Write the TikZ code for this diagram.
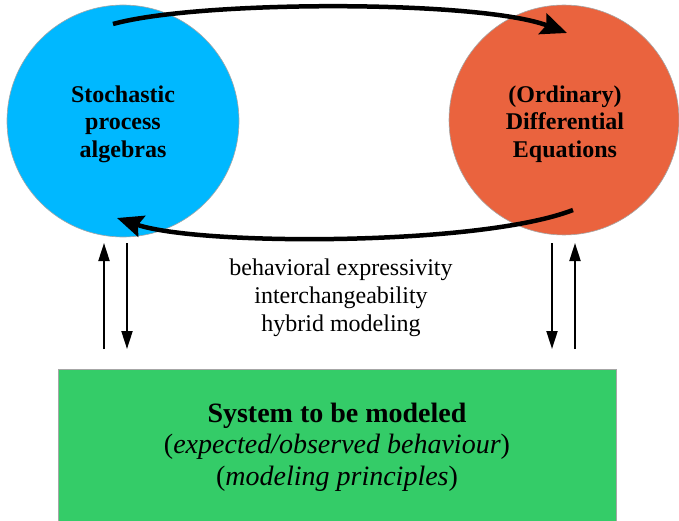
\documentclass[tikz,border=0pt]{standalone}
\usepackage{fontspec}
\setmainfont{Liberation Serif}
\usetikzlibrary{arrows.meta}
\definecolor{sblue}{RGB}{0,184,255}
\definecolor{sorange}{RGB}{234,99,62}
\definecolor{sgreen}{RGB}{52,204,104}
\tikzset{
  blob/.style={circle, draw=gray!70, line width=0.6pt, minimum size=#1, inner sep=0pt},
  circlabel/.style={font=\bfseries\fontsize{24}{27.5}\selectfont, align=center, text=black},
  bigarrow/.style={line width=4.5pt, -{Stealth[length=26pt 0 0,width=22pt 0 0,inset=4pt 0]}},
  thinarrow/.style={line width=2pt, -{Triangle[length=18pt 0 0,width=11pt 0 0]}},
}
\begin{document}
\begin{tikzpicture}[x=1pt,y=-1pt]
\useasboundingbox (0,0) rectangle (679,521);
% circles
\node[blob=232pt, fill=sblue] (spa) at (123,121) {};
\node[blob=230pt, fill=sorange] (ode) at (564,120) {};
\node[circlabel] (spatext) at (123,124) {Stochastic\\process\\algebras};
\node[circlabel] (odetext) at (565,124) {(Ordinary)\\Differential\\Equations};
% green box
\node[draw=gray!70, line width=0.6pt, fill=sgreen, minimum width=558pt, minimum height=170pt, inner sep=0pt] (sys) at (337,454) {};
\node[align=center, font=\fontsize{28}{31.5}\selectfont] (systext) at (337,447)
  {\textbf{System to be modeled}\\(\textit{expected/observed behaviour})\\(\textit{modeling principles})};
% middle text
\node[align=center, font=\fontsize{24}{28}\selectfont] (mid) at (341,298)
  {behavioral expressivity\\interchangeability\\hybrid modeling};
% arrow endpoints
\coordinate (a1) at (113,24);
\coordinate (a2) at (567,33);
\coordinate (b1) at (573,210);
\coordinate (b2) at (117,218);
\coordinate (lu1) at (104,349);
\coordinate (lu2) at (104,243);
\coordinate (ld1) at (127,243);
\coordinate (ld2) at (127,349);
\coordinate (rd1) at (552,243);
\coordinate (rd2) at (552,349);
\coordinate (ru1) at (575,349);
\coordinate (ru2) at (575,243);
% big curved arrows
\draw[bigarrow] (a1) .. controls (200,0) and (480,0) .. (a2);
\draw[bigarrow] (b1) .. controls (480,246) and (200,246) .. (b2);
% vertical arrows
\draw[thinarrow] (lu1) -- (lu2);
\draw[thinarrow] (ld1) -- (ld2);
\draw[thinarrow] (rd1) -- (rd2);
\draw[thinarrow] (ru1) -- (ru2);
\end{tikzpicture}
\end{document}
